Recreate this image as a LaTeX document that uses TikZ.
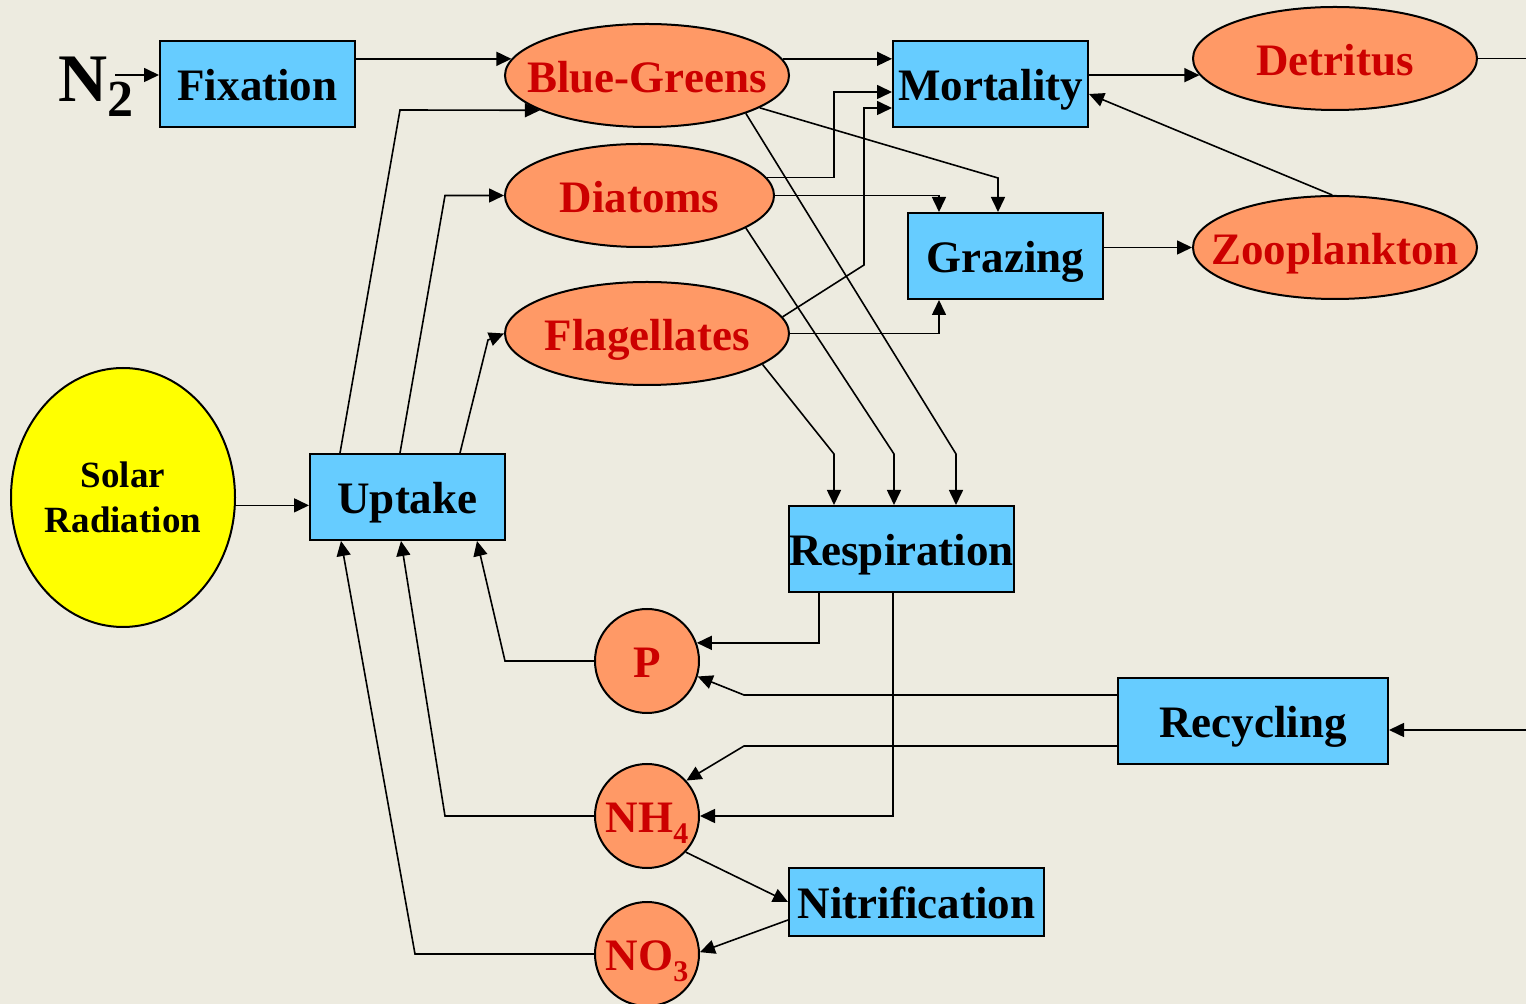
\documentclass[tikz,border=0pt]{standalone}
\usepackage{fontspec}
\setmainfont{Liberation Serif}
\usetikzlibrary{arrows.meta,shapes.geometric}
\definecolor{bgc}{HTML}{EDEBE0}
\definecolor{boxc}{HTML}{66CCFF}
\definecolor{ovalc}{HTML}{FF9966}
\definecolor{txtred}{HTML}{CC0000}
\definecolor{sunc}{HTML}{FFFF00}
\begin{document}
\begin{tikzpicture}[x=0.5pt,y=-0.5pt,
  lab/.style={inner sep=0pt, text height=16.9pt, text depth=0pt, font=\fontsize{22.5}{27}\selectfont\bfseries},
  proc/.style={draw=black, line width=1pt, fill=boxc, rectangle, inner sep=0pt, minimum height=43pt, lab},
  pool/.style={draw=black, line width=1pt, fill=ovalc, ellipse, inner sep=0pt, minimum height=51.5pt},
  nut/.style={draw=black, line width=1pt, fill=ovalc, circle, inner sep=0pt, minimum size=52pt},
  redlab/.style={lab, text=txtred},
  flow/.style={line width=0.8pt, -{Triangle[length=7.5pt,width=7pt]}},
  plain/.style={line width=0.8pt}
]
\fill[bgc] (0,0) rectangle (1526,1004);
\useasboundingbox (0,0) rectangle (1526,1004);
\clip (0,0) rectangle (1526,1004);

% process boxes
\node[proc, minimum width=97.5pt] (fix) at (257.5,84) {Fixation};
\node[proc, minimum width=97.5pt] (mort) at (990.5,84) {Mortality};
\node[proc, minimum width=97.5pt] (graz) at (1005.5,256) {Grazing};
\node[proc, minimum width=97.5pt] (up) at (407.5,497) {Uptake};
\node[proc, minimum width=112.5pt] (resp) at (901.5,549) {Respiration};
\node[proc, minimum width=135pt] (rec) at (1253,721) {Recycling};
\node[proc, minimum width=127.5pt, minimum height=34pt] (nit) at (916.5,902) {Nitrification};

% pools
\node[pool, minimum width=142pt, label={[redlab]center:Blue-Greens}] (bg) at (647,75.5) {};
\node[pool, minimum width=134.5pt, label={[redlab]center:Diatoms}] (di) at (639.5,195.5) {};
\node[pool, minimum width=142pt, label={[redlab]center:Flagellates}] (fl) at (647,333.5) {};
\node[pool, minimum width=142pt, label={[redlab]center:Detritus}] (de) at (1335,58.5) {};
\node[pool, minimum width=142pt, label={[redlab]center:Zooplankton}] (zo) at (1335,247.5) {};
\node[draw=black, line width=1pt, fill=sunc, ellipse, inner sep=0pt, minimum width=112pt, minimum height=129.5pt,
  label={[align=center, inner sep=0pt, font=\fontsize{18.5}{22.5}\selectfont\bfseries]center:{Solar\\Radiation}}] (sun) at (123,497.5) {};

% nutrients
\node[nut, label={[redlab]center:P}] (p) at (647,661) {};
\node[nut, label={[redlab]center:{NH\raisebox{-5.5pt}{\fontsize{15}{15}\selectfont 4}}}] (nh) at (647,816) {};
\node[nut, label={[redlab]center:{NO\raisebox{-5.5pt}{\fontsize{15}{15}\selectfont 3}}}] (no) at (647,954) {};

% N2
\node[inner sep=0pt, anchor=base west, font=\bfseries] (n2) at (58,102)
  {\fontsize{34}{34}\selectfont N\raisebox{-7.5pt}{\fontsize{26}{26}\selectfont 2}};
\coordinate (n2o) at (115,75);
\draw[flow] (n2o) -- (fix.west |- n2o);

% connectors
\draw[flow] (fix.east |- bg.173) -- (bg.173);
\draw[flow] (up.north -| 340,0) -- (400,110) -- (bg.198);
\draw[flow] (up.north -| 400,0) -- (445,195.5) -- (di.west);
\draw[flow] (up.north -| 460,0) -- (488,340) -- (fl.west);
\draw[flow] (bg.7) -- (mort.west |- bg.7);
\draw[flow] (di.8) -| (834,92) -- (mort.west |- 834,92);
\draw[flow] (fl.7) -- (864,265) -- (864,108) -- (mort.west |- 864,108);
\draw[flow] (bg.344) -- (998,178) -- (graz.north -| 998,0);
\draw[flow] (di.east) -| (graz.north -| 939,0);
\draw[flow] (fl.east) -| (graz.south -| 939,0);
\draw[flow] (mort.east |- de.187) -- (de.187);
\draw[flow] (zo.93) -- (mort.east |- 0,94);
\draw[flow] (graz.east |- zo.west) -- (zo.west);
\coordinate (edgeA) at (1526,58.5);
\draw[plain] (de.east) -- (edgeA);
\coordinate (edgeB) at (1526,730);
\draw[flow] (edgeB) -- (rec.east |- edgeB);
\draw[flow] (bg.339) -- (956,454) -- (resp.north -| 956,0);
\draw[flow] (di.343) -- (894,454) -- (resp.north -| 894,0);
\draw[flow] (fl.345) -- (834,454) -- (resp.north -| 834,0);
\draw[flow] (sun.356) -- (up.west |- sun.356);
\draw[flow] (resp.south -| 819,0) |- (p.20);
\draw[flow] (resp.south -| 893,0) |- (nh.east);
\draw[flow] (rec.west |- 0,695) -- (744,695) -- (p.343);
\draw[flow] (rec.west |- 0,746) -- (744,746) -- (nh.42);
\draw[flow] (p.west) -- (505,661) -- (up.south -| 477,0);
\draw[flow] (nh.west) -- (445,816) -- (up.south -| 401,0);
\draw[flow] (no.west) -- (415,954) -- (up.south -| 341,0);
\draw[flow] (nh.317) -- (nit.west);
\draw[flow] (nit.west |- 0,920) -- (no.2);
\end{tikzpicture}
\end{document}
